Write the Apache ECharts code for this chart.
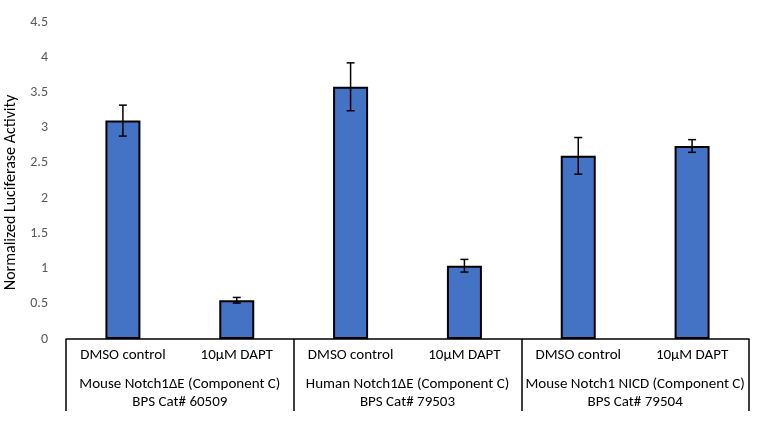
<!DOCTYPE html>
<html><head><meta charset="utf-8">
<script src="https://cdn.jsdelivr.net/npm/echarts@6/dist/echarts.min.js"></script>
<style>html,body{margin:0;padding:0;background:#fff}#c{width:764px;height:423px}</style>
</head><body><div id="c"></div>
<script>
const treatments = ['DMSO control','10µM DAPT','DMSO control','10µM DAPT','DMSO control','10µM DAPT'];
const groups = ['Mouse Notch1ΔE (Component C)\nBPS Cat# 60509','Human Notch1ΔE (Component C)\nBPS Cat# 79503','Mouse Notch1 NICD (Component C)\nBPS Cat# 79504'];
const values = [3.10, 0.55, 3.58, 1.04, 2.60, 2.74];
const errors = [0.22, 0.04, 0.34, 0.09, 0.26, 0.09];
const yTicks = {min:0, max:4.5, interval:0.5};

const chart = echarts.init(document.getElementById('c'));
const font = 'Calibri, Carlito, "Open Sans", sans-serif';
chart.setOption({
  animation:false,
  grid:{left:66,right:15,top:22,bottom:84,outerBoundsMode:'none',containLabel:false},
  xAxis:[{
    type:'category', data:treatments, position:'bottom', offset:0,
    axisLine:{lineStyle:{color:'#000',width:1.5}},
    axisTick:{show:false},
    axisLabel:{interval:0,color:'#000',fontFamily:font,fontSize:15,margin:9}
  },{
    type:'category', data:groups, position:'bottom', offset:0,
    axisLine:{show:false},
    axisTick:{show:true,length:72,interval:0,lineStyle:{color:'#000',width:1.5}},
    axisLabel:{interval:0,color:'#000',fontFamily:font,fontSize:15,margin:36,lineHeight:18}
  }],
  yAxis:{
    type:'value', min:yTicks.min, max:yTicks.max, interval:yTicks.interval,
    splitLine:{show:false}, axisLine:{show:false}, axisTick:{show:false},
    axisLabel:{color:'#595959',fontFamily:font,fontSize:14,margin:18},
    name:'Normalized Luciferase Activity', nameLocation:'middle', nameGap:46,
    nameTextStyle:{color:'#000',fontFamily:font,fontSize:16,padding:[0,0,0,-24]}
  },
  series:[{
    type:'bar', data:values, barWidth:35, xAxisIndex:0,
    itemStyle:{color:'#4472C4',borderColor:'#000',borderWidth:2}
  },{
    type:'custom', xAxisIndex:0,
    data: values.map((v,i)=>[i, v-errors[i], v+errors[i]]),
    renderItem:function(params, api){
      const lo = api.coord([api.value(0), api.value(1)]);
      const hi = api.coord([api.value(0), api.value(2)]);
      const w = 4;
      const st = {stroke:'#000', lineWidth:1.5};
      return {type:'group', children:[
        {type:'line', shape:{x1:lo[0],y1:lo[1],x2:hi[0],y2:hi[1]}, style:st},
        {type:'line', shape:{x1:lo[0]-w,y1:lo[1],x2:lo[0]+w,y2:lo[1]}, style:st},
        {type:'line', shape:{x1:hi[0]-w,y1:hi[1],x2:hi[0]+w,y2:hi[1]}, style:st}
      ]};
    },
    z:5
  }]
});
</script></body></html>
